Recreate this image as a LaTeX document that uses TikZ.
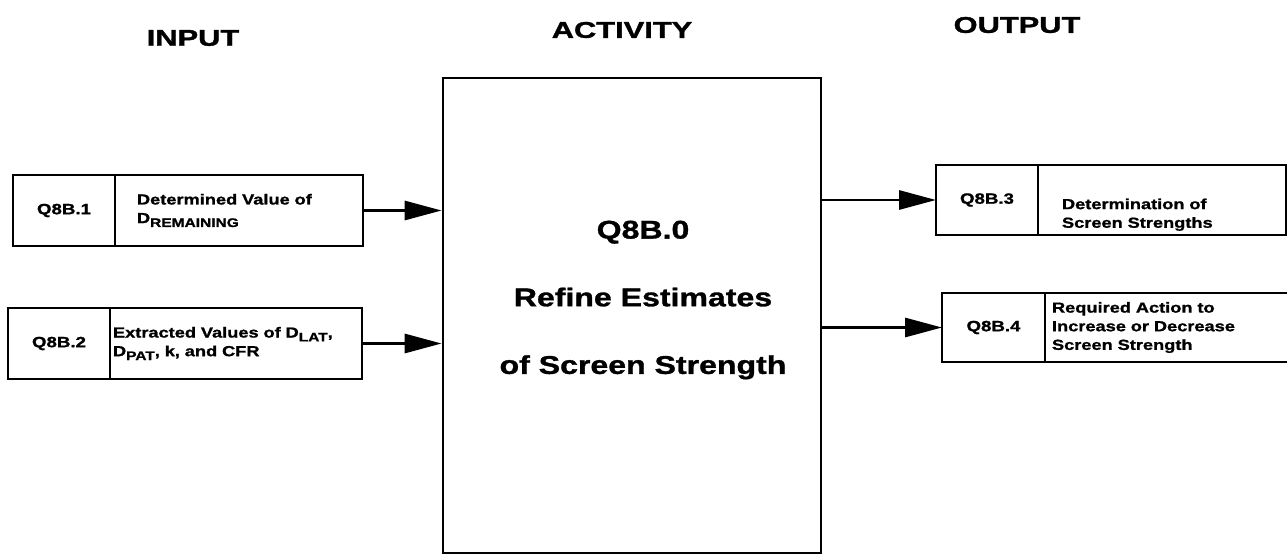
\documentclass[tikz,border=0pt]{standalone}
\usepackage{fontspec}
\setmainfont{Liberation Sans}[FakeStretch=1.25, BoldFeatures={FakeBold=1.2}]
\newfontfamily\headfont{Liberation Sans}[FakeStretch=1.35, BoldFeatures={FakeBold=1.4}]
\usetikzlibrary{arrows.meta, positioning}
\tikzstyle{arrow}=[-{Triangle[length=0.74cm, width=0.38cm]}, line width=1.7pt, color=black]
\newcommand{\lowsub}[1]{\raisebox{-0.5ex}{\scalebox{0.85}{#1}}}

\begin{document}
\begin{tikzpicture}[x=0.02cm, y=-0.02cm,
  head/.style={font=\headfont\bfseries\fontsize{13}{15}\selectfont},
  idbox/.style={rectangle, draw, line width=1.4pt, outer sep=0pt, minimum width=2.04cm,
                minimum height=1.42cm, inner sep=0pt, font=\bfseries\fontsize{8.5}{10}\selectfont},
  txtbox/.style={rectangle, draw, line width=1.4pt, outer sep=0pt, minimum height=1.42cm,
                 align=left, inner ysep=0pt, font=\bfseries\fontsize{8.3}{10.6}\selectfont}
]
\useasboundingbox (0,0) rectangle (1287,555);

% column headings
\node[head] (in_h)  at (193,38) {INPUT};
\node[head] (act_h) at (622,30) {ACTIVITY};
\node[head] (out_h) at (1017,25) {OUTPUT};

% activity box
\node[rectangle, draw, line width=1.6pt, minimum width=7.56cm, minimum height=9.5cm] (act_n) at (632,315.5) {};
\node[font=\bfseries\fontsize{14.6}{38.5}\selectfont, align=center] (act_t) at (643,300)
     {Q8B.0\\Refine Estimates\\of Screen Strength};

% inputs
\node[idbox, anchor=north west] (q1_n) at (13,175) {Q8B.1};
\node[txtbox, right=0pt of q1_n, text width=4.08cm, inner xsep=0.44cm] (q1_t)
     {Determined Value of\\D\lowsub{REMAINING}};
\node[idbox, anchor=north west] (q2_n) at (8,308) {Q8B.2};
\node[txtbox, right=0pt of q2_n, text width=4.92cm, inner xsep=0.06cm] (q2_t)
     {Extracted Values of D\lowsub{LAT},\\D\lowsub{PAT}, k, and CFR};

% outputs
\node[idbox, anchor=north west, minimum height=1.4cm] (q3_n) at (936,165) {Q8B.3};
\node[txtbox, right=0pt of q3_n, minimum height=1.4cm, text width=4.0cm, inner xsep=0.48cm] (q3_t)
     {\rule{0pt}{0.8cm}Determination of\\Screen Strengths};
\node[idbox, anchor=north west, minimum width=2.06cm, minimum height=1.38cm] (q4_n) at (942,293) {Q8B.4};
\node[txtbox, right=0pt of q4_n, minimum height=1.38cm, text width=4.62cm, inner xsep=0.14cm] (q4_t)
     {Required Action to\\Increase or Decrease\\Screen Strength};

\draw[arrow] (q1_t.east) -- (q1_t.east -| act_n.west);
\draw[arrow] (q2_t.east) -- (q2_t.east -| act_n.west);
\draw[arrow] (act_n.east |- q3_n.west) -- (q3_n.west);
\draw[arrow] (act_n.east |- q4_n.west) -- (q4_n.west);
\end{tikzpicture}
\end{document}
